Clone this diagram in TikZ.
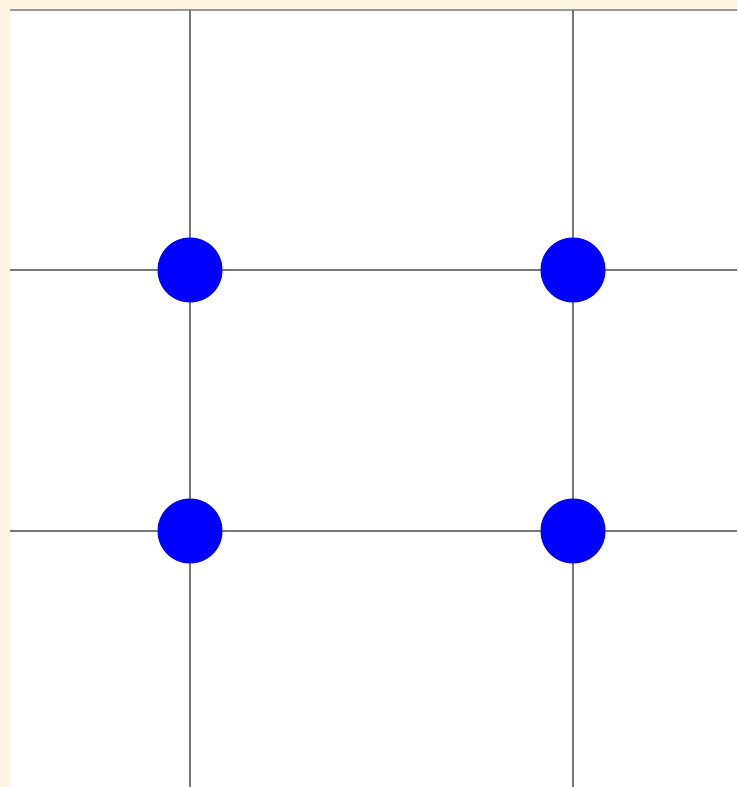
\documentclass[tikz,border=0pt]{standalone}
\usepackage{tikz}
\definecolor{cream}{HTML}{FCF4E0}
\definecolor{gridgray}{HTML}{777777}
\definecolor{dotblue}{HTML}{0000FF}

\begin{document}
\begin{tikzpicture}[
    gridline/.style={line width=1.4pt, draw=gridgray},
    dot/.style={circle, fill=dotblue, minimum size=1.3cm, inner sep=0pt}
]
    % Page and background
    \useasboundingbox (0,0) rectangle (14.74,-15.74);
    \fill[cream] (0,0) rectangle (14.74,-15.74);
    \fill[white] (0.2,-0.2) rectangle (14.74,-15.74);
    \draw[line width=1.4pt, draw=black!40] (0.2,-0.2) -- (14.74,-0.2);

    % Edge points of the grid
    \coordinate (top1) at (3.8,-0.2);
    \coordinate (top2) at (11.46,-0.2);
    \coordinate (bot1) at (3.8,-15.74);
    \coordinate (bot2) at (11.46,-15.74);
    \coordinate (left1) at (0.2,-5.4);
    \coordinate (left2) at (0.2,-10.62);
    \coordinate (right1) at (14.74,-5.4);
    \coordinate (right2) at (14.74,-10.62);

    % Grid lines
    \draw[gridline] (top1) -- (bot1);
    \draw[gridline] (top2) -- (bot2);
    \draw[gridline] (left1) -- (right1);
    \draw[gridline] (left2) -- (right2);

    % Intersection points
    \node[dot] (tl) at (3.8,-5.4) {};
    \node[dot] (tr) at (11.46,-5.4) {};
    \node[dot] (bl) at (3.8,-10.62) {};
    \node[dot] (br) at (11.46,-10.62) {};
\end{tikzpicture}
\end{document}
